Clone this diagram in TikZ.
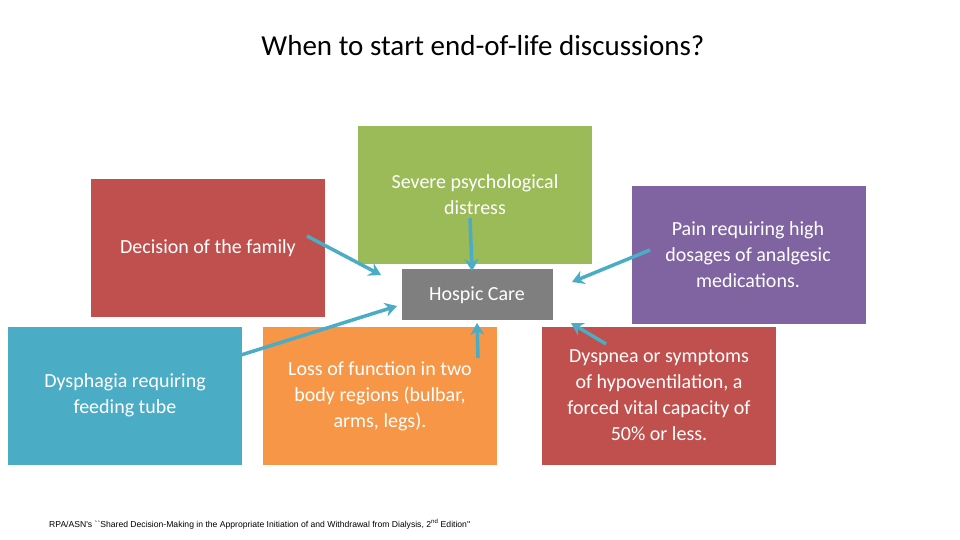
\documentclass[tikz,border=0pt]{standalone}
\usepackage{fontspec}
\setmainfont{Carlito}
\newfontfamily\notefont{Liberation Sans}
\definecolor{cred}{HTML}{C0504D}
\definecolor{cgreen}{HTML}{9BBB59}
\definecolor{cgray}{HTML}{7F7F7F}
\definecolor{cpurple}{HTML}{8064A2}
\definecolor{cblue}{HTML}{4BACC6}
\definecolor{corange}{HTML}{F79646}
\usetikzlibrary{arrows.meta}
\begin{document}
\begin{tikzpicture}[x=1pt,y=-1pt,
  box/.style={inner sep=0pt,outer sep=0pt,text=white,font=\fontsize{20}{26}\selectfont,align=center},
  arr/.style={draw=cblue,line width=3.5pt,-{Stealth[length=12pt,width=14pt,inset=4pt]}}]
\useasboundingbox (0,0) rectangle (960,540);
\fill[cred] (91,179) rectangle (325,317);
\fill[cgreen] (358,126) rectangle (592,264);
\fill[cgray] (402,269) rectangle (553,320);
\fill[cpurple] (632,186) rectangle (866,324);
\fill[cblue] (8,327) rectangle (242,465);
\fill[corange] (263,327) rectangle (497,465);
\fill[cred] (542,327) rectangle (776,465);
\node[font=\fontsize{29}{34}\selectfont] (title) at (483,46) {When to start end-of-life discussions?};
\node[box] (fam) at (208,248) {Decision of the family};
\node[box] (psy) at (475,195) {Severe psychological\\distress};
\node[box] (hos) at (477,295) {Hospic Care};
\node[box] (pain) at (748,255) {Pain requiring high\\dosages of analgesic\\medications.};
\node[box] (dys) at (125,395) {Dysphagia requiring\\feeding tube};
\node[box] (loss) at (380,396) {Loss of function in two\\body regions (bulbar,\\arms, legs).};
\node[box] (dysp) at (659,395) {Dyspnea or symptoms\\of hypoventilation, a\\forced vital capacity of\\50\% or less.};
\coordinate (a1s) at (307,236); \coordinate (a1e) at (381,275);
\coordinate (a2s) at (470,218); \coordinate (a2e) at (472,271);
\coordinate (a3s) at (650,250); \coordinate (a3e) at (572,282);
\coordinate (a4s) at (241,355); \coordinate (a4e) at (397,306);
\coordinate (a5s) at (478,358); \coordinate (a5e) at (477,323);
\coordinate (a6s) at (606,344); \coordinate (a6e) at (571,323);
\draw[arr] (a1s) -- (a1e);
\draw[arr] (a2s) -- (a2e);
\draw[arr] (a3s) -- (a3e);
\draw[arr] (a4s) -- (a4e);
\draw[arr] (a5s) -- (a5e);
\draw[arr] (a6s) -- (a6e);
\node[anchor=west,font=\notefont\fontsize{8.6}{10}\selectfont,inner sep=0pt] (note) at (49,524) {RPA/ASN's ``Shared Decision-Making in the Appropriate Initiation of and Withdrawal from Dialysis, 2\textsuperscript{nd} Edition''};
\end{tikzpicture}
\end{document}
